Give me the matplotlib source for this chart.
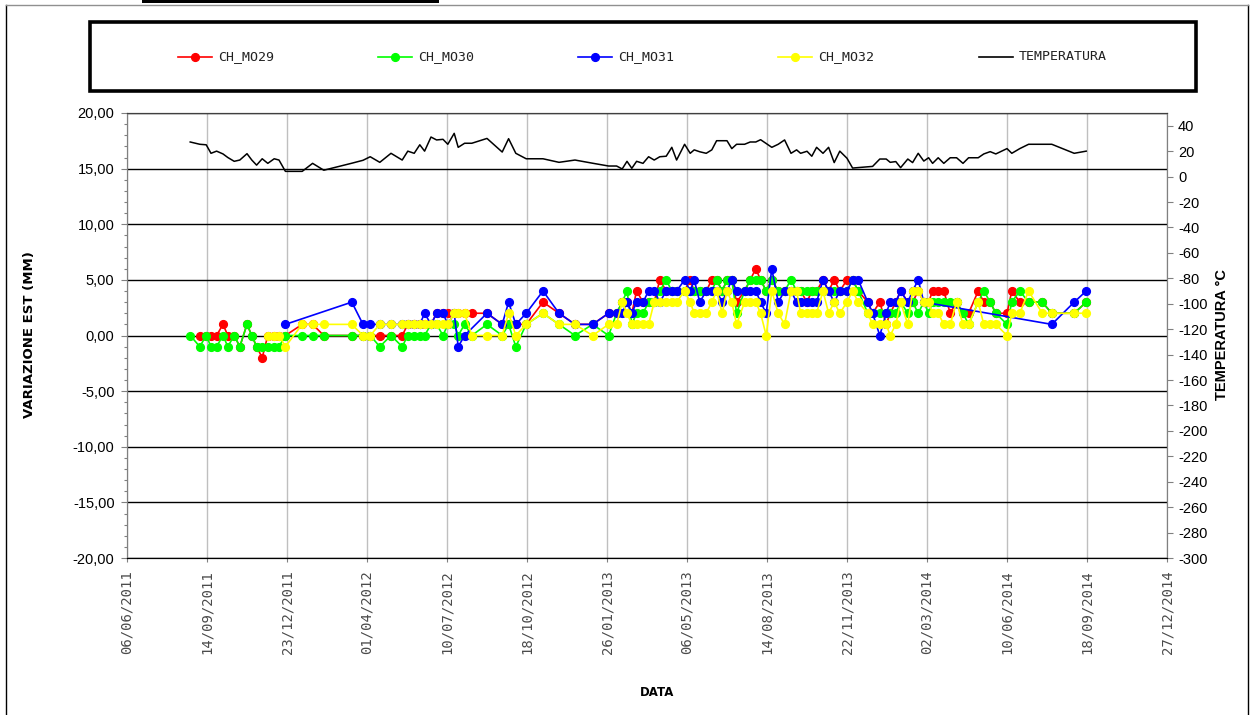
import matplotlib
matplotlib.use("Agg")
import matplotlib.pyplot as plt
from matplotlib.lines import Line2D
from matplotlib.patches import Rectangle
from matplotlib.ticker import MultipleLocator, FuncFormatter, FixedLocator
import numpy as np
import pandas as pd

# ---------------------------------------------------------------- dati
inizio = "2011-06-06"          # riferimento per i giorni di lettura
fine = "2014-12-27"

# giorni trascorsi da "inizio" per ogni campagna di lettura
giorni = [79, 91, 99, 105, 112, 120, 126, 134, 141, 150, 156, 162, 169, 176, 184, 190,
          198, 219, 232, 246, 281, 295, 304, 316, 330, 344, 351, 359, 366, 372, 380, 387,
          395, 401, 409, 414, 422, 431, 450, 469, 477, 486, 499, 520, 540, 560, 582, 602,
          612, 619, 625, 631, 637, 645, 652, 659, 666, 674, 681, 687, 697, 704, 709, 716,
          724, 731, 737, 744, 750, 756, 762, 772, 779, 786, 792, 799, 806, 814, 822, 830,
          837, 842, 850, 856, 862, 870, 877, 884, 891, 900, 907, 914, 926, 932, 941, 949,
          954, 961, 967, 976, 982, 989, 996, 1002, 1007, 1014, 1021, 1029, 1037, 1045, 1052,
          1064, 1071, 1079, 1086, 1100, 1106, 1116, 1127, 1144, 1156, 1184, 1199]

temperatura = [27.2, 25.4, 25, 18.3, 20, 17.8, 15, 12, 13, 18, 13, 9, 14, 10.4, 14, 13,
               4.1, 4.1, 10.4, 5, 10.5, 12.8, 15.6, 11.2, 18.3, 13, 20, 18.3, 25, 20, 31.1, 28.8,
               29.3, 25.4, 34, 23, 26.2, 26.2, 30, 19.3, 29.8, 18.3, 14, 14, 11.2, 13, 10.5, 8.3,
               8.3, 6, 12, 6.5, 12, 10.4, 15.6, 13, 15.6, 16, 23, 13, 25.4, 18.3, 21, 19.5,
               18.3, 21, 28.2, 28.2, 28.2, 22, 25.4, 25.4, 27.2, 27.2, 29, 26, 23, 25.4, 28.8, 18.3,
               21, 18.3, 19.9, 16, 23, 18.3, 23, 11, 20, 14.4, 6.7, None, None, 8, 13.8, 13.8,
               11.2, 11.8, 7, 13.8, 11, 18.3, 12.2, 14.8, 10.4, 14.8, 10.4, 14.8, 14.8, 10.4, 14.8,
               14.8, 17.8, 19.6, 17.8, 22, 18.3, 22, 25.4, 25.4, 25.4, 18.3, 20]

ch_mo29 = [None, 0, 0, 0, 0, 1, 0, 0, -1, 1, 0, -1, -2, 0, 0, 0,
           0, 1, 1, 0, 0, 0, 0, 0, 0, 0, 1, 1, 1, 1, 1, 2,
           2, 2, 2, 2, 2, 2, 2, 1, 1, 1, 1, 3, 2, 1, 1, 2,
           2, 3, 3, 2, 4, 3, 3, 3, 5, 4, 4, 4, 4, 5, 4, 4,
           4, 5, 5, 4, 5, 5, 3, 4, 5, 6, 5, 4, 5, 4, 4, 4,
           4, 4, 3, 4, 4, 5, 4, 5, 4, 5, 5, 4, 3, 2, 3, 1,
           2, 3, 4, 3, 3, 4, 3, 3, 4, 4, 4, 2, 3, 2, 2,
           4, 3, 3, 2, 2, 4, 3, 3, 3, 2, 2, 3]

ch_mo30 = [0, -1, 0, -1, -1, 0, -1, 0, -1, 1, 0, -1, -1, -1, -1, -1,
           0, 0, 0, 0, 0, 0, 0, -1, 0, -1, 0, 0, 0, 0, 1, 1,
           0, 1, 1, 0, 1, 0, 1, 0, 1, -1, 1, 2, 1, 0, 1, 0,
           2, 3, 4, 1, 2, 2, 3, 3, 4, 5, 4, 4, 4, 4, 4, 4,
           4, 4, 5, 4, 5, 5, 2, 4, 5, 5, 5, 4, 5, 4, 4, 5,
           4, 4, 4, 4, 4, 4, 4, 4, 4, 4, 5, 4, 2, 2, 2, 2,
           2, 2, 3, 2, 3, 2, 3, 2, 3, 3, 3, 3, 3, 2, 1,
           3, 4, 3, 2, 1, 3, 4, 3, 3, 2, 2, 3]

ch_mo31 = [None, None, None, None, None, None, None, None, None, None, None, None, None, None, None, None,
           1, None, None, None, 3, 1, 1, 1, 1, 1, 1, 1, 1, 2, 1, 2,
           2, 1, 2, -1, 0, None, 2, 1, 3, 1, 2, 4, 2, 1, 1, 2,
           2, 2, 3, 2, 3, 3, 4, 4, 3, 4, 4, 4, 5, 4, 5, 3,
           4, 4, 4, 3, 4, 5, 4, 4, 4, 4, 3, 2, 6, 3, 4, 4,
           3, 3, 3, 3, 3, 5, 4, 3, 4, 4, 5, 5, 3, 2, 0, 2,
           3, 3, 4, 3, 4, 5, 3, None, None, None, None, None, None, None, None,
           None, None, None, None, None, None, None, None, None, 1, 3, 4]

ch_mo32 = [None, None, None, None, None, None, None, None, None, None, None, None, None, 0, 0, 0,
           -1, 1, 1, 1, 1, 0, 0, 1, 1, 1, 1, 1, 1, 1, 1, 1,
           1, 1, 2, 2, 2, 0, 0, 0, 2, 0, 1, 2, 1, 1, 0, 1,
           1, 3, 2, 1, 1, 1, 1, 3, 3, 3, 3, 3, 4, 3, 2, 2,
           2, 3, 4, 2, 4, 3, 1, 3, 3, 3, 2, 0, 4, 2, 1, 4,
           4, 2, 2, 2, 2, 4, 2, 3, 2, 3, 4, 3, 2, 1, 1, 1,
           0, 1, 3, 1, 4, 4, 3, 3, 2, 2, 1, 1, 3, 1, 1,
           3, 1, 1, 1, 0, 2, 2, 4, 2, 2, 2, 2]

nomi_serie = ["CH_MO29", "CH_MO30", "CH_MO31", "CH_MO32"]
colori_serie = ["#FF0000", "#00FF00", "#0000FF", "#FFFF00"]
nome_temperatura = "TEMPERATURA"

etichette_date = ["06/06/2011", "14/09/2011", "23/12/2011", "01/04/2012", "10/07/2012",
                  "18/10/2012", "26/01/2013", "06/05/2013", "14/08/2013", "22/11/2013",
                  "02/03/2014", "10/06/2014", "18/09/2014", "27/12/2014"]

# ---------------------------------------------------------------- figura
W, H = 1254, 715
fig = plt.figure(figsize=(W / 100, H / 100), dpi=100)
fig.patch.set_facecolor("white")


def fx(px):
    return px / W


def fy(py):
    return 1 - py / H


ax = fig.add_axes([fx(127), fy(558), (1167 - 127) / W, (558 - 113) / H])
ax2 = ax.twinx()

t0 = pd.Timestamp(inizio)
date = t0 + pd.to_timedelta(np.array(giorni), unit="D")

for nome, valori, colore in zip(nomi_serie, [ch_mo29, ch_mo30, ch_mo31, ch_mo32], colori_serie):
    v = np.array(valori, dtype=float)
    m = ~np.isnan(v)
    ax.plot(date[m], v[m], color=colore, lw=1.2, marker="o", ms=5.6,
            mfc=colore, mec=colore, zorder=3, label=nome)

tv = np.array(temperatura, dtype=float)
mt = ~np.isnan(tv)
ax2.plot(date[mt], tv[mt], color="black", lw=1.1, zorder=3)

# assi
ax.set_xlim(pd.Timestamp(inizio), pd.Timestamp(fine))
ax.set_ylim(-20, 20)
ax2.set_ylim(-300, 50)

tick_date = pd.to_datetime(etichette_date, dayfirst=True)
ax.xaxis.set_major_locator(FixedLocator(matplotlib.dates.date2num(tick_date)))
ax.set_xticklabels(etichette_date, rotation=90, fontsize=10,
                   family="DejaVu Sans Mono", color="#4a4a4a")
ax.tick_params(axis="x", direction="out", length=3, width=0.8, color="#808080", pad=6)

ax.yaxis.set_major_locator(MultipleLocator(5))
ax.yaxis.set_minor_locator(MultipleLocator(1))
ax.yaxis.set_major_formatter(FuncFormatter(lambda v, p: f"{v:.2f}".replace(".", ",")))
ax.tick_params(axis="y", which="major", direction="out", length=4, width=0.8,
               color="#808080", pad=5, labelsize=10.5)
ax.tick_params(axis="y", which="minor", direction="out", length=2.5, width=0.8, color="#808080")
for lab in ax.get_yticklabels():
    lab.set_family("Liberation Sans")

ax2.yaxis.set_major_locator(FixedLocator(list(range(-300, 41, 20))))
ax2.yaxis.set_major_formatter(FuncFormatter(lambda v, p: f"{int(round(v))}"))
ax2.tick_params(axis="y", direction="out", length=4, width=0.8, color="#808080",
                pad=4, labelsize=10.5)
for lab in ax2.get_yticklabels():
    lab.set_family("Liberation Sans")

ax.set_axisbelow(True)
ax.grid(axis="x", color="#BFBFBF", lw=1.0)
ax.grid(axis="y", which="major", color="black", lw=1.0)

for a in (ax, ax2):
    a.spines["top"].set_color("#404040")
    a.spines["bottom"].set_color("black")
    a.spines["left"].set_color("#808080")
    a.spines["right"].set_color("#808080")

# titoli degli assi
fig.text(fx(30), fy(335), "VARIAZIONE EST (MM)", rotation=90, ha="center", va="center",
         fontsize=9.5, fontweight="bold", family="DejaVu Sans")
fig.text(fx(1222), fy(335), "TEMPERATURA °C", rotation=90, ha="center", va="center",
         fontsize=10.5, fontweight="bold", family="Liberation Sans")
fig.text(fx(657), fy(692), "DATA", ha="center", va="center",
         fontsize=8.5, fontweight="bold", family="DejaVu Sans")

# legenda
fig.patches.append(Rectangle((fx(90), fy(91)), (1196 - 90) / W, (91 - 22) / H,
                             transform=fig.transFigure, fill=False, lw=2.6,
                             edgecolor="black", zorder=5))
voci = list(zip(nomi_serie, colori_serie, [True] * 4)) + [(nome_temperatura, "black", False)]
inizi = [178, 378, 578, 778, 979]
for (testo, colore, marcatore), x0 in zip(voci, inizi):
    y = fy(57)
    fig.lines.append(Line2D([fx(x0), fx(x0 + 17), fx(x0 + 34)], [y, y, y],
                            transform=fig.transFigure, color=colore, lw=1.2,
                            marker="o" if marcatore else None, markevery=[1], ms=5.6,
                            mfc=colore, mec=colore))
    fig.text(fx(x0 + 40), y, testo, ha="left", va="center", fontsize=9.5,
             family="DejaVu Sans Mono", color="#222222")

# cornice esterna
fig.lines.append(Line2D([fx(6), fx(6)], [fy(4.5), 0], transform=fig.transFigure,
                        color="black", lw=1))
fig.lines.append(Line2D([fx(1248), fx(1248)], [fy(4.5), 0], transform=fig.transFigure,
                        color="black", lw=1))
fig.lines.append(Line2D([fx(6), fx(1248)], [fy(4.5), fy(4.5)], transform=fig.transFigure,
                        color="#909090", lw=1))
fig.patches.append(Rectangle((fx(142), fy(2.5)), (439 - 142) / W, 2.5 / H,
                             transform=fig.transFigure, color="black", lw=0))

fig.savefig("out.png", dpi=100)
